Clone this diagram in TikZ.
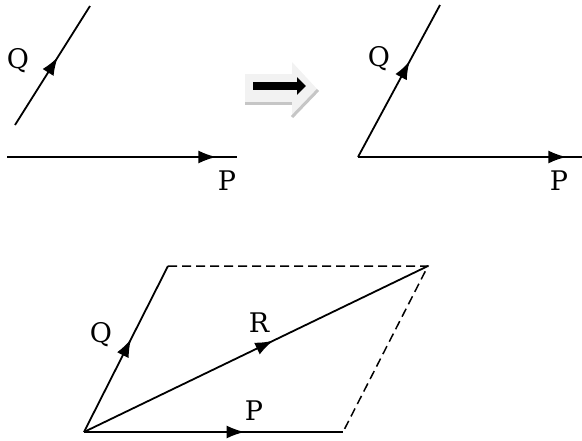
\documentclass[tikz,border=0pt]{standalone}
\usepackage{fontspec}
\setmainfont{DejaVu Serif}
\usepackage{tikz}
\usetikzlibrary{arrows.meta,decorations.markings}

\begin{document}
\begin{tikzpicture}[x=1pt, y=-1pt,
      vec/.style={line width=1.8pt},
      side/.style={line width=1.5pt, dashed, dash pattern=on 9pt off 5pt},
      lbl/.style={font=\fontsize{27}{27}\selectfont, inner sep=0pt},
      mid/.style={postaction={decorate}, decoration={markings,
                  mark=at position #1 with {\arrow{Latex[length=18pt,width=13pt]}}}}
  ]
    \useasboundingbox (0,0) rectangle (582,440);
    % separate vectors
    \coordinate (qa0) at (15,125);
    \coordinate (qa1) at (90,6);
    \coordinate (pa0) at (7,157);
    \coordinate (pa1) at (237,157);
    \draw[vec, mid=0.57] (qa0) -- (qa1);
    \draw[vec, mid=0.91] (pa0) -- (pa1);
    \node[lbl] (qa) at (18,61) {Q};
    \node[lbl] (pa) at (227,181) {P};

    % big arrow
    \coordinate (ba0) at (245,74);
    \coordinate (ba1) at (292,74);
    \coordinate (ba2) at (292,62);
    \coordinate (ba3) at (318,90);
    \coordinate (ba4) at (292,117);
    \coordinate (ba5) at (292,103);
    \coordinate (ba6) at (245,103);
    \fill[gray!10] (ba0) -- (ba1) -- (ba2) -- (ba3) -- (ba4) -- (ba5) -- (ba6) -- cycle;
    \draw[gray!45, line width=3pt] (ba6) -- (ba5);
    \draw[gray!45, line width=3pt] (ba3) -- (ba4);
    \coordinate (bb0) at (253,86);
    \coordinate (bb1) at (306,86);
    \draw[line width=8pt, -{Triangle[length=9pt,width=17pt]}] (bb0) -- (bb1);

    % tail to tail
    \coordinate (ob) at (358,157);
    \coordinate (qb1) at (440,5);
    \coordinate (pb1) at (582,157);
    \draw[vec, mid=0.63] (ob) -- (qb1);
    \draw[vec, mid=0.93] (ob) -- (pb1);
    \node[lbl] (qb) at (379,59) {Q};
    \node[lbl] (pb) at (559,181) {P};

    % parallelogram
    \coordinate (oc) at (84,432);
    \coordinate (pc1) at (343,432);
    \coordinate (qc1) at (168,266);
    \coordinate (rc1) at (428,266);
    \draw[vec, mid=0.62] (oc) -- (pc1);
    \draw[vec, mid=0.56] (oc) -- (qc1);
    \draw[vec, mid=0.55] (oc) -- (rc1);
    \draw[side] (qc1) -- (rc1) -- (pc1);
    \node[lbl] (qc) at (101,335) {Q};
    \node[lbl] (rc) at (259,323) {R};
    \node[lbl] (pc) at (254,411) {P};
  \end{tikzpicture}
\end{document}
